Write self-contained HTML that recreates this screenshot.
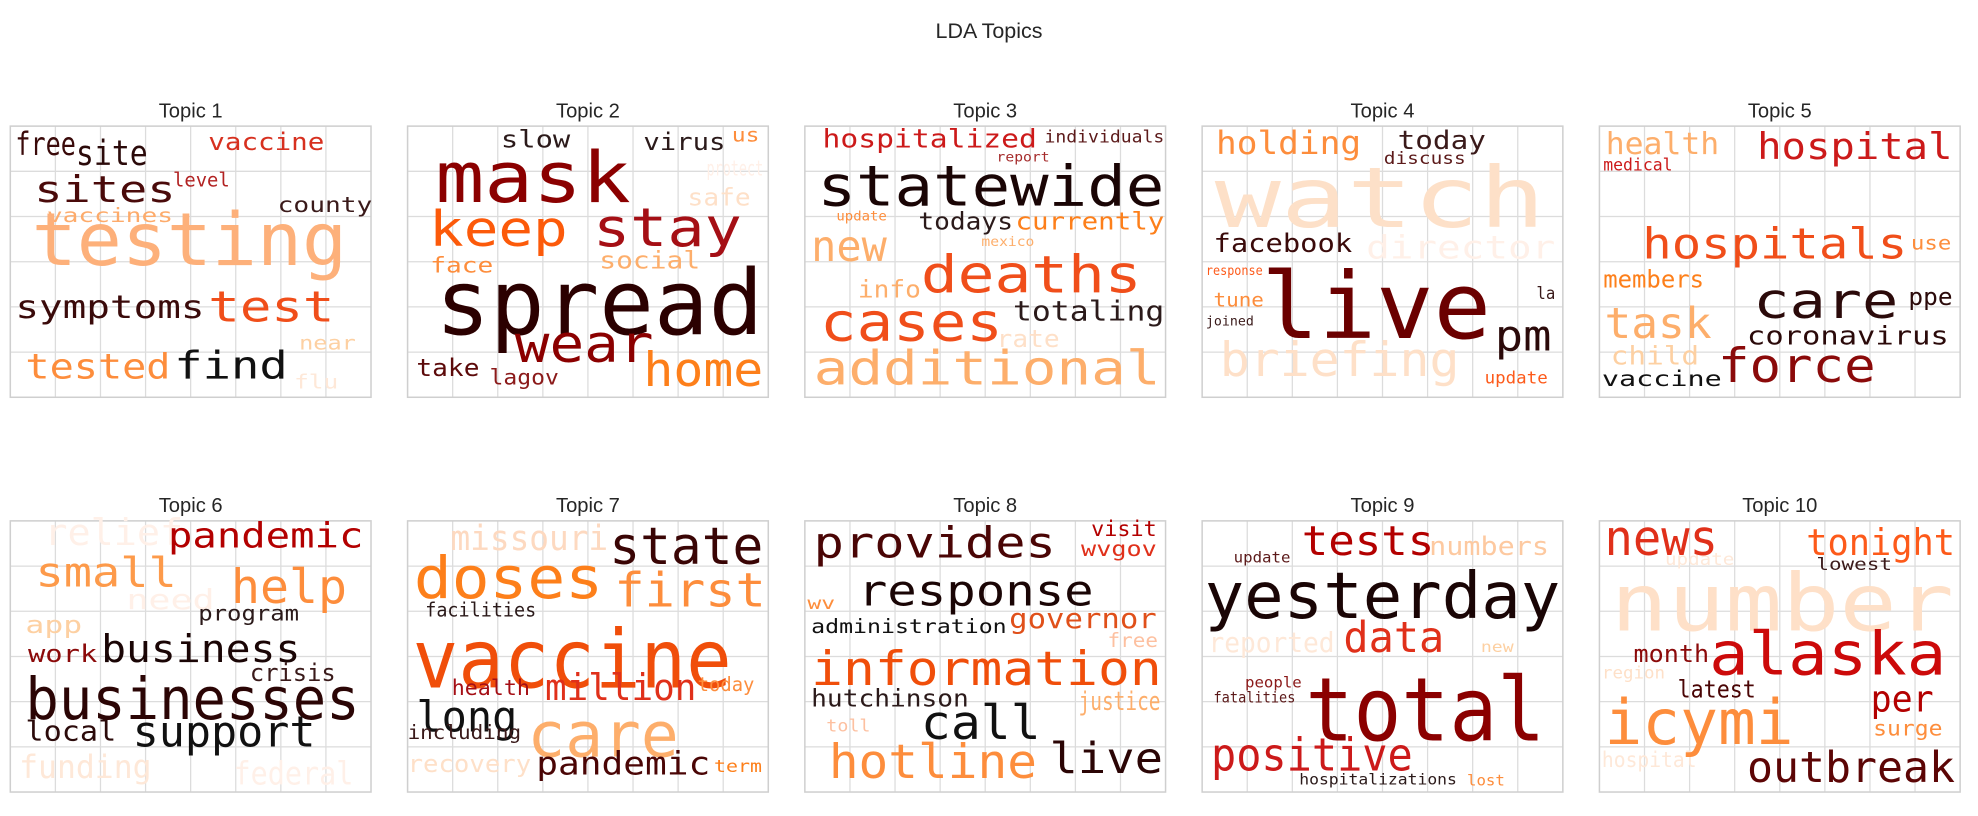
<!DOCTYPE html>
<html><head><meta charset="utf-8"><title>LDA Topics</title>
<style>
html,body{margin:0;padding:0;background:#fff;}
svg{display:block;}
text{font-family:"DejaVu Sans Mono","Liberation Mono",monospace;}
.ttl{font-family:"Liberation Sans",sans-serif;fill:#262626;}
</style></head>
<body>
<svg id="chart" width="1978" height="816" viewBox="0 0 1568 647" xmlns="http://www.w3.org/2000/svg">
<text class="ttl" x="784" y="30" text-anchor="middle" font-size="17">LDA Topics</text>
</svg>
<script>
const topicTitles = ["Topic 1","Topic 2","Topic 3","Topic 4","Topic 5","Topic 6","Topic 7","Topic 8","Topic 9","Topic 10"];
const boxLefts = [8,323,638,953,1268];
const boxTops = [100,413];
const BW = 286, BH = 215;
const FS = 0.85;
// [word, x, baseline, width, fontSize, color]
const topic1Words = [["free",12,123,48,30,"#3a0a0a"],["site",60,131,57,32,"#2b0a0a"],["vaccine",165,119,92,22,"#d7301f"],["sites",27,160,112,34,"#4a0a0a"],["level",137,148,45,18,"#b22222"],["county",220,168,75,20,"#3a1a1a"],["vaccines",37,176,100,18,"#fdab6b"],["testing",25,210,250,68,"#fdb07a"],["symptoms",12,252,150,30,"#3a0a0a"],["test",165,255,100,40,"#f04e1a"],["near",237,277,45,18,"#fdd0a2"],["tested",20,300,115,32,"#fd8d3c"],["find",138,300,90,36,"#111111"],["flu",233,308,35,18,"#fee8d8"]];
const topic2Words = [["slow",397,117,55,22,"#2b1a1a"],["virus",510,119,65,22,"#2b1a1a"],["us",580,112,22,18,"#fd8d3c"],["protect",560,139,45,20,"#fff0e8"],["mask",345,160,155,66,"#8b0000"],["safe",545,163,50,22,"#fee0c8"],["keep",340,195,110,46,"#fc5a0a"],["stay",470,195,118,50,"#a50f15"],["face",341,216,50,20,"#fd8d3c"],["social",475,213,80,22,"#fdae6b"],["spread",345,265,260,84,"#2b0000"],["wear",408,287,110,48,"#8b0000"],["take",330,298,50,22,"#5c0a0a"],["lagov",388,305,55,20,"#8b1a1a"],["home",510,306,95,44,"#fd7f1a"]];
const topic3Words = [["hospitalized",652,117,170,24,"#cc1a1a"],["individuals",828,113,95,16,"#5c1a1a"],["report",790,128,42,12,"#a52a2a"],["statewide",648,163,275,52,"#1a0505"],["update",663,175,40,12,"#fd8d3c"],["todays",728,182,75,22,"#2b1a1a"],["currently",805,182,118,22,"#fd7f1a"],["new",643,207,60,40,"#fdae6b"],["mexico",778,195,42,12,"#fdae6b"],["deaths",730,232,175,48,"#f04e1a"],["info",680,236,50,22,"#fdae6b"],["totaling",803,254,120,26,"#2b1a1a"],["cases",650,270,145,50,"#f04e1a"],["rate",790,275,50,22,"#fee0c8"],["additional",645,305,275,44,"#fdae6b"]];
const topic4Words = [["watch",963,180,262,78,"#fde0c8"],["director",1083,205,150,30,"#fff0e8"],["briefing",967,298,190,44,"#fee0c8"],["holding",964,122,115,30,"#fd8d3c"],["today",1108,118,70,24,"#3a1a1a"],["discuss",1097,130,65,16,"#5c1a1a"],["facebook",962,200,110,24,"#3a0a0a"],["response",956,218,45,12,"#fd5a1a"],["live",1000,268,182,86,"#6b0000"],["tune",962,243,40,18,"#fd8d3c"],["la",1218,237,15,16,"#3a1a1a"],["joined",956,258,38,12,"#3a1a1a"],["pm",1185,278,45,40,"#2b0a0a"],["update",1177,304,50,16,"#fd5a1a"]];
const topic5Words = [["health",1273,122,90,28,"#fdae6b"],["hospital",1393,126,155,34,"#cc1a1a"],["medical",1271,135,55,16,"#cc1a1a"],["hospitals",1302,205,210,40,"#f04e1a"],["use",1515,198,32,18,"#fd8d3c"],["members",1271,228,80,22,"#fd7f1a"],["task",1272,268,85,40,"#fdae6b"],["care",1390,252,115,46,"#2b0a0a"],["ppe",1513,242,35,22,"#2b0a0a"],["child",1277,289,70,24,"#fdd0a2"],["coronavirus",1385,273,160,24,"#2b0a0a"],["force",1362,303,125,44,"#8b0a0a"],["vaccine",1270,306,95,20,"#111111"]];
const topic6Words = [["relief",35,432,110,34,"#fff0e8"],["need",100,483,70,26,"#fff0e8"],["funding",15,617,105,30,"#fee8d8"],["federal",185,622,95,30,"#fff0e8"],["pandemic",133,434,155,32,"#b30000"],["small",28,465,112,38,"#fd9a4a"],["help",183,478,92,44,"#fd8d3c"],["program",157,492,80,20,"#2b1a1a"],["app",20,502,45,22,"#fdd0a2"],["work",22,525,55,22,"#8b0a0a"],["business",80,525,158,36,"#1a0505"],["crisis",198,540,68,22,"#3a1a1a"],["businesses",20,570,265,54,"#2b0505"],["local",20,587,72,26,"#2b0a0a"],["support",105,592,145,40,"#111111"]];
const topic7Words = [["missouri",357,436,125,32,"#fdd9c0"],["state",483,447,122,48,"#3a0505"],["doses",328,474,150,54,"#fd7f1a"],["first",487,481,120,44,"#fd8d3c"],["facilities",337,489,88,18,"#2b1a1a"],["vaccine",327,545,253,76,"#f04e0a"],["health",358,551,62,20,"#a50f15"],["million",432,555,120,34,"#e0301a"],["today",553,548,45,18,"#fd8d3c"],["long",330,580,80,40,"#111111"],["including",323,586,90,18,"#3a1a1a"],["care",418,600,120,58,"#fdae6b"],["recovery",323,612,98,22,"#fee0c8"],["pandemic",425,614,138,30,"#4a0505"],["term",566,612,38,16,"#fd7f1a"]];
const topic8Words = [["provides",645,442,192,40,"#4a0505"],["visit",865,425,52,20,"#b30000"],["wvgov",857,441,60,20,"#e0301a"],["response",680,480,187,40,"#1a0505"],["governor",800,498,117,26,"#e0501a"],["wv",640,483,22,16,"#fd8d3c"],["administration",643,502,155,18,"#111111"],["free",878,513,40,18,"#fdc0a0"],["information",643,543,278,44,"#f04e0a"],["hutchinson",643,560,125,22,"#2b1a1a"],["justice",855,563,65,24,"#fdae6b"],["call",730,586,95,44,"#111111"],["toll",655,580,35,16,"#fdc0a0"],["hotline",657,617,165,44,"#fd8d3c"],["live",832,613,90,40,"#2b0505"]];
const topic9Words = [["update",978,446,45,14,"#5c1a1a"],["tests",1032,440,105,38,"#b30000"],["numbers",1133,440,95,24,"#fdc9a0"],["yesterday",955,490,282,60,"#1a0505"],["reported",958,517,100,26,"#fee8d8"],["new",1174,517,26,14,"#fdd0a2"],["data",1065,517,80,40,"#e0301a"],["people",987,545,45,14,"#8b1a1a"],["fatalities",962,557,65,14,"#5c1a1a"],["total",1035,587,190,82,"#8b0000"],["positive",960,611,160,42,"#cc1a1a"],["hospitalizations",1030,622,125,14,"#2b1a1a"],["lost",1163,623,30,14,"#fd8d3c"]];
const topic10Words = [["number",1277,500,272,74,"#fee0c8"],["update",1320,448,55,16,"#fee8d8"],["region",1270,538,50,16,"#fee0c8"],["hospital",1270,608,75,20,"#fee8d8"],["news",1272,440,90,46,"#e0301a"],["tonight",1432,440,118,34,"#fd5a1a"],["lowest",1440,452,60,16,"#3a1a1a"],["month",1295,525,60,22,"#8b0a0a"],["alaska",1355,535,188,56,"#cc0a0a"],["latest",1330,553,62,22,"#4a0505"],["per",1483,564,50,34,"#b30000"],["icymi",1272,590,150,58,"#fd8d3c"],["surge",1485,583,55,20,"#fd8d3c"],["outbreak",1385,620,165,40,"#5c0505"]];
const allWords = [topic1Words,topic2Words,topic3Words,topic4Words,topic5Words,topic6Words,topic7Words,topic8Words,topic9Words,topic10Words];

const NS = "http://www.w3.org/2000/svg";
const svg = document.getElementById("chart");
function mk(tag, attrs){const e=document.createElementNS(NS,tag);for(const k in attrs)e.setAttribute(k,attrs[k]);return e;}
topicTitles.forEach((t,i)=>{
  const bx = boxLefts[i%5], by = boxTops[Math.floor(i/5)];
  const g = mk("g",{});
  
  
  svg.appendChild(g);
  const title = mk("text",{x:bx+BW/2,y:by-7,"text-anchor":"middle","font-size":"16",class:"ttl"});
  
  
  title.textContent = t;
  g.appendChild(title);
  for(let c=1;c<8;c++){
    const x = bx + BW*c/8;
    const l = mk("line",{x1:x,x2:x,y1:by,y2:by+BH,stroke:"#dcdcdc","stroke-width":"1"});
    
    
    g.appendChild(l);
  }
  for(let r=1;r<6;r++){
    const y = by + BH*r/6;
    const l = mk("line",{x1:bx,x2:bx+BW,y1:y,y2:y,stroke:"#dcdcdc","stroke-width":"1"});
    
    
    g.appendChild(l);
  }
  const box = mk("rect",{x:bx,y:by,width:BW,height:BH,fill:"none",stroke:"#cfcfcf","stroke-width":"1.2"});
  
  
  g.appendChild(box);
  allWords[i].forEach(w=>{
    const tx = mk("text",{x:w[1],y:w[2],textLength:w[3],lengthAdjust:"spacingAndGlyphs","font-size":(w[4]*FS).toFixed(1),fill:w[5]});
    
    
    tx.textContent = w[0];
    g.appendChild(tx);
  });
});
</script>
</body></html>
